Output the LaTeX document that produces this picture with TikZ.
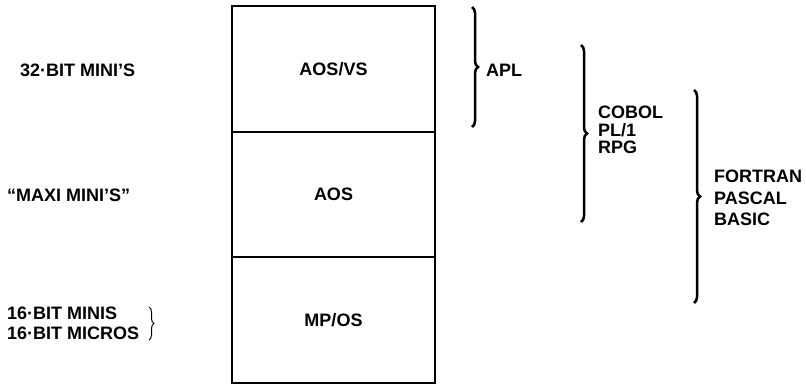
\documentclass[tikz,border=0pt]{standalone}
\usepackage{fontspec}
\setmainfont{Liberation Sans}
\usetikzlibrary{positioning,decorations.pathreplacing}
\tikzset{layer/.style={draw,line width=2pt,minimum width=203pt,minimum height=125.5pt,inner sep=0pt,outer sep=0pt,font=\bfseries\fontsize{18}{20}\selectfont}}
\tikzset{tag/.style={anchor=west,align=left,inner sep=0pt,font=\bfseries\fontsize{18}{20}\selectfont}}
\tikzset{curly/.style={decorate,decoration={brace,amplitude=6pt},line width=2.5pt}}

\begin{document}
\begin{tikzpicture}[x=1pt,y=-1pt]
                    \useasboundingbox (0,0) rectangle (806,384);
                    \node[layer] (aosvs) at (333.5,68.75) {AOS/VS};
                    \node[layer,below=0pt of aosvs] (aos) {AOS};
                    \node[layer,below=0pt of aos] (mpos) {MP/OS};

                    \node[tag] (bit32) at (20,70) {32·BIT MINI’S};
                    \node[tag] (maxi) at (7,195) {“MAXI MINI’S”};
                    \node[tag] (bit16) at (7,323) {16·BIT MINIS\\16·BIT MICROS};

                    \coordinate (smallT) at (149,307);
                    \coordinate (smallB) at (149,340);
                    \coordinate (aplT) at (472,7);
                    \coordinate (aplB) at (472,127);
                    \coordinate (cobT) at (581,45);
                    \coordinate (cobB) at (581,222);
                    \coordinate (forT) at (694,90);
                    \coordinate (forB) at (694,303);

                    \draw[curly, line width=1pt, decoration={amplitude=5pt}] (smallT) -- (smallB);
                    \draw[curly] (aplT) -- (aplB);
                    \draw[curly] (cobT) -- (cobB);
                    \draw[curly] (forT) -- (forB);

                    \node[tag] (apl) at (486,70) {APL};
                    \node[tag, font=\bfseries\fontsize{18}{17.5}\selectfont] (cobol) at (598,130) {COBOL\\PL/1\\RPG};
                    \node[tag, font=\bfseries\fontsize{18}{21.6}\selectfont] (fortran) at (714,198) {FORTRAN\\PASCAL\\BASIC};
                \end{tikzpicture}
\end{document}
